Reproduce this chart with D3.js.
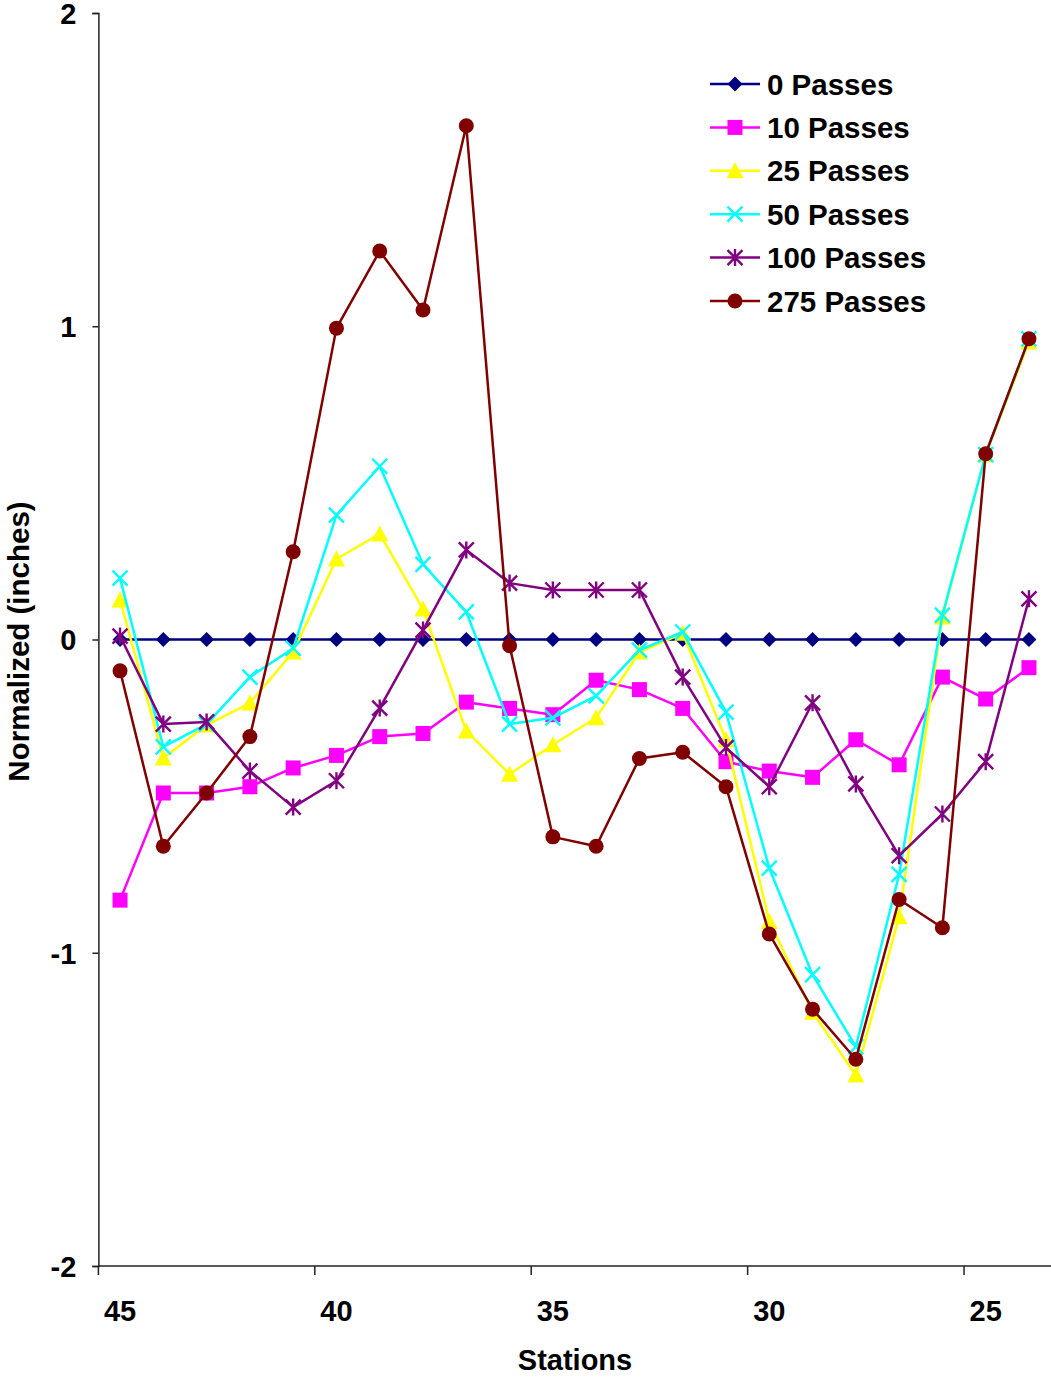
<!DOCTYPE html>
<html>
<head>
<meta charset="utf-8">
<script src="https://cdn.jsdelivr.net/npm/d3@7"></script>
<style>
  html, body { margin: 0; padding: 0; background: #fff; }
  svg { display: block; }
  text { font-family: "Liberation Sans", Arial, sans-serif; font-weight: bold; fill: #000; }
</style>
</head>
<body>
<script>
// Stations along the survey line, left to right
const stations = [45, 44, 43, 42, 41, 40, 39, 38, 37, 36, 35, 34, 33, 32, 31, 30, 29, 28, 27, 26, 25, 24];

// Normalized readings (inches) after each number of passes
const passes0   = [0, 0, 0, 0, 0, 0, 0, 0, 0, 0, 0, 0, 0, 0, 0, 0, 0, 0, 0, 0, 0, 0];
const passes10  = [-0.832, -0.49, -0.49, -0.47, -0.41, -0.37, -0.31, -0.30, -0.20, -0.22, -0.24, -0.13, -0.16, -0.22, -0.39, -0.42, -0.44, -0.32, -0.40, -0.12, -0.19, -0.09];
const passes25  = [0.126, -0.378, -0.273, -0.203, -0.04, 0.257, 0.337, 0.097, -0.292, -0.43, -0.336, -0.25, -0.04, 0.02, -0.32, -0.90, -1.19, -1.39, -0.885, 0.072, 0.59, 0.95];
const passes50  = [0.196, -0.343, -0.27, -0.12, -0.028, 0.397, 0.553, 0.24, 0.088, -0.27, -0.25, -0.18, -0.034, 0.024, -0.232, -0.73, -1.07, -1.30, -0.75, 0.078, 0.59, 0.96];
const passes100 = [0.011, -0.27, -0.263, -0.42, -0.535, -0.451, -0.219, 0.03, 0.286, 0.18, 0.158, 0.158, 0.158, -0.12, -0.345, -0.47, -0.202, -0.461, -0.69, -0.557, -0.39, 0.13];
const passes275 = [-0.10, -0.66, -0.49, -0.31, 0.28, 0.994, 1.24, 1.052, 1.64, -0.02, -0.63, -0.66, -0.38, -0.36, -0.47, -0.94, -1.18, -1.34, -0.83, -0.92, 0.593, 0.96];

const seriesNames = ["0 Passes", "10 Passes", "25 Passes", "50 Passes", "100 Passes", "275 Passes"];
const seriesColors = ["#000080", "#FF00FF", "#FFFF00", "#00FFFF", "#800080", "#800000"];
const seriesMarkers = ["diamond", "square", "triangle", "x", "asterisk", "circle"];

const yTicks = [2, 1, 0, -1, -2];
const yTickLabels = ["2", "1", "0", "-1", "-2"];
const xLabelStations = [45, 40, 35, 30, 25];

const series = [passes0, passes10, passes25, passes50, passes100, passes275].map((vals, i) => ({
  name: seriesNames[i], color: seriesColors[i], marker: seriesMarkers[i],
  points: stations.map((s, j) => ({ station: s, value: vals[j] }))
}));

const W = 1051, H = 1378;
const plot = { left: 98.4, right: 1050.6, top: 13, bottom: 1266 };

const svg = d3.select("body").append("svg").attr("width", W).attr("height", H);

const x = d3.scaleBand().domain(stations).range([plot.left, plot.right]).padding(0);
const xc = s => x(s) + x.bandwidth() / 2;
const y = d3.scaleLinear().domain([-2, 2]).range([plot.bottom, plot.top]);

// Y axis
const yAxis = d3.axisLeft(y).tickValues(yTicks).tickSize(6)
  .tickFormat((d, i) => yTickLabels[i]);
const gy = svg.append("g").attr("transform", `translate(${plot.left},0)`).call(yAxis);
gy.select(".domain").attr("stroke", "#222").attr("stroke-width", 1.5);
gy.selectAll(".tick line").attr("stroke", "#222").attr("stroke-width", 1.5);
gy.selectAll(".tick text").attr("x", -22).attr("dy", "0.36em").attr("font-size", 29).attr("font-family", null);

// X axis: tick marks sit on category boundaries every five stations
const gx = svg.append("g").attr("transform", `translate(0,${plot.bottom})`);
gx.append("line").attr("x1", plot.left).attr("x2", W).attr("y1", 0).attr("y2", 0)
  .attr("stroke", "#222").attr("stroke-width", 1.5);
gx.selectAll("line.tick").data(xLabelStations).join("line")
  .attr("class", "tick")
  .attr("x1", d => x(d)).attr("x2", d => x(d))
  .attr("y1", 0).attr("y2", 9)
  .attr("stroke", "#222").attr("stroke-width", 1.5);
gx.selectAll("text").data(xLabelStations).join("text")
  .attr("x", d => xc(d)).attr("y", 55)
  .attr("text-anchor", "middle").attr("font-size", 29)
  .text(d => d);

// Axis titles
svg.append("text").attr("x", 575).attr("y", 1370)
  .attr("text-anchor", "middle").attr("font-size", 29).text("Stations");
svg.append("text")
  .attr("transform", `translate(29,${(plot.top + plot.bottom) / 2 + 2}) rotate(-90)`)
  .attr("text-anchor", "middle").attr("font-size", 29.5).text("Normalized (inches)");

// Marker drawing
function drawMarker(g, type, color) {
  const r = 7.5;
  if (type === "diamond") {
    g.append("path").attr("d", `M0,${-r}L${r},0L0,${r}L${-r},0Z`).attr("fill", color);
  } else if (type === "square") {
    g.append("rect").attr("x", -r).attr("y", -r).attr("width", 2 * r).attr("height", 2 * r).attr("fill", color);
  } else if (type === "triangle") {
    g.append("path").attr("d", `M0,${-r - 1}L${r + 1},${r}L${-r - 1},${r}Z`).attr("fill", color);
  } else if (type === "x") {
    g.append("path").attr("d", `M${-r},${-r}L${r},${r}M${-r},${r}L${r},${-r}`)
      .attr("stroke", color).attr("stroke-width", 2.4).attr("fill", "none");
  } else if (type === "asterisk") {
    g.append("path").attr("d", `M${-r},${-r}L${r},${r}M${-r},${r}L${r},${-r}M0,${-r - 1}L0,${r + 1}`)
      .attr("stroke", color).attr("stroke-width", 2.4).attr("fill", "none");
  } else if (type === "circle") {
    g.append("circle").attr("r", r).attr("fill", color);
  }
}

const line = d3.line().x(d => xc(d.station)).y(d => y(d.value));

series.forEach(s => {
  const g = svg.append("g");
  g.append("path").datum(s.points).attr("d", line)
    .attr("fill", "none").attr("stroke", s.color).attr("stroke-width", 2.5)
    .attr("stroke-linejoin", "round");
  s.points.forEach(p => {
    drawMarker(g.append("g").attr("transform", `translate(${xc(p.station)},${y(p.value)})`), s.marker, s.color);
  });
});

// Legend
const legend = svg.append("g");
const legendRowY = d3.scaleLinear().domain([0, series.length - 1]).range([84, 301]);
series.forEach((s, i) => {
  const gy0 = legendRowY(i);
  const row = legend.append("g").attr("transform", `translate(0,${gy0})`);
  row.append("line").attr("x1", 710).attr("x2", 760).attr("y1", 0).attr("y2", 0)
    .attr("stroke", s.color).attr("stroke-width", 2.5);
  drawMarker(row.append("g").attr("transform", "translate(735,0)"), s.marker, s.color);
  row.append("text").attr("x", 767).attr("y", 10.5).attr("font-size", 29.5).text(s.name);
});
</script>
</body>
</html>
